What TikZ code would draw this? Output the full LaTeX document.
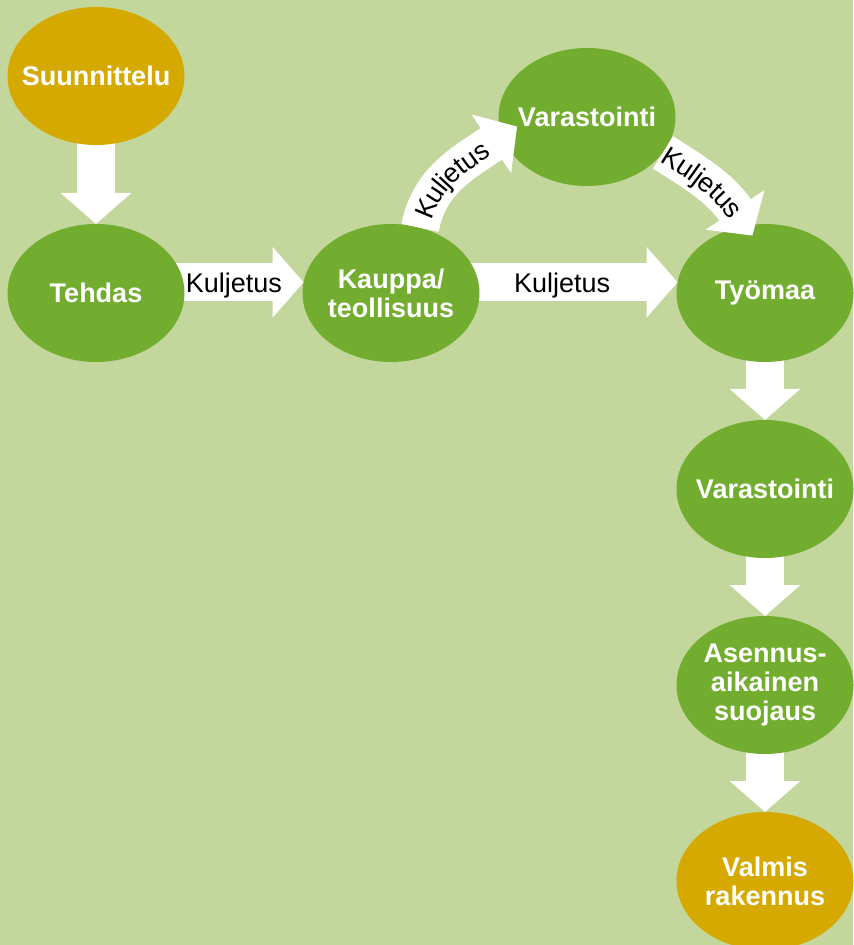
\documentclass[tikz,border=0pt]{standalone}
\usepackage{fontspec}
\setmainfont{Liberation Sans}
\usetikzlibrary{arrows.meta,shapes.geometric,decorations.text}
\definecolor{bgcol}{RGB}{195,214,155}
\definecolor{leaf}{RGB}{114,173,47}
\definecolor{gold}{RGB}{214,169,0}
\pgfdeclarelayer{behind}
\pgfsetlayers{behind,main}
\newcommand\kfont{\fontsize{13.5}{15}\selectfont}
\tikzset{
	phase/.style={ellipse, fill=leaf, text=white, inner xsep=-7pt, inner ysep=0pt, outer sep=0pt,
		minimum width=88.5pt, minimum height=69pt, align=center,
		font=\bfseries\fontsize{13.5}{14.5}\selectfont},
	endphase/.style={phase, fill=gold},
	bigarrow/.style={draw=white, line width=19pt, -{Triangle[length=15.5pt,width=34.5pt]}},
	kuljetus/.style={text=black, font=\kfont, inner sep=0pt, yshift=-1.4pt},
	curvetext/.style={decorate, decoration={text along path, text={|\kfont|Kuljetus},
		text align=center, raise=-4.7pt, post length=#1}},
}
\begin{document}
\begin{tikzpicture}[x=0.5pt, y=0.5pt]
	\useasboundingbox (0,0) rectangle (853,-945);
	\node[endphase] (sun) at (96,-76) {Suunnittelu};
	\node[phase] (teh) at (96,-293) {Tehdas};
	\node[phase] (kau) at (391,-293) {Kauppa/\\teollisuus};
	\node[phase] (var1) at (587,-117) {Varastointi};
	\node[phase] (tyo) at (765,-293) {Työmaa};
	\node[phase] (var2) at (765,-489) {Varastointi};
	\node[phase] (ase) at (765,-685) {Asennus-\\aikainen\\suojaus};
	\node[endphase] (val) at (765,-881) {Valmis\\rakennus};
	\begin{pgfonlayer}{behind}
		\fill[bgcol] (0,0) rectangle (853,-945);
		\draw[bigarrow, shorten <=-10pt] (sun.south) -- (teh.north);
		\draw[bigarrow, shorten <=-10pt] (teh.7) -- node[kuljetus, pos=.42] {Kuljetus} (kau.173);
		\draw[bigarrow, shorten <=-10pt] (kau.7) -- node[kuljetus, pos=.42] {Kuljetus} (tyo.173);
		\draw[bigarrow, shorten <=-10pt] (tyo.south) -- (var2.north);
		\draw[bigarrow, shorten <=-10pt] (var2.south) -- (ase.north);
		\draw[bigarrow, shorten <=-10pt] (ase.south) -- (val.north);
	\end{pgfonlayer}
	\draw[bigarrow, shorten >=-9pt] (kau.66) to[out=79, in=214] (var1.193);
	\path[curvetext=4pt] (kau.66) to[out=79, in=214] (var1.193);
	\draw[bigarrow, shorten >=-6pt] (var1.335) to[out=-32, in=124] (tyo.106);
	\path[curvetext=6pt] (var1.335) to[out=-32, in=124] (tyo.106);
\end{tikzpicture}
\end{document}
